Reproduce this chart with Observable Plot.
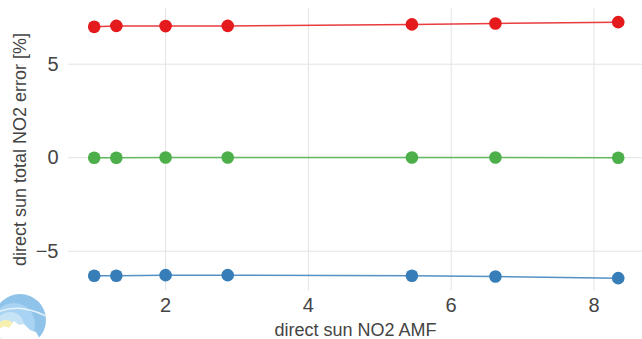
<!DOCTYPE html>
<html>
<head>
<meta charset="utf-8">
<script src="https://cdn.jsdelivr.net/npm/d3@7"></script>
<script src="https://cdn.jsdelivr.net/npm/@observablehq/plot@0.6"></script>
<style>
  html, body { margin: 0; padding: 0; background: #fff; }
  #wrap { position: relative; width: 642px; height: 339px; }
  #logo { position: absolute; left: 0; top: 288px; }
</style>
</head>
<body>
<div id="wrap">
  <div id="chart"></div>
  <svg id="logo" width="50" height="51" viewBox="0 0 50 51">
    <defs>
      <clipPath id="disc"><circle cx="20" cy="32" r="26"/></clipPath>
    </defs>
    <g clip-path="url(#disc)">
      <rect x="-10" y="0" width="70" height="60" fill="#8fc3ea"/>
      <circle cx="14" cy="36" r="21" fill="#a9d3f2"/>
      <circle cx="10" cy="38" r="14" fill="#c7e4f7"/>
      <path d="M-4 25 Q 18 14 46 28" stroke="#e6f3fb" stroke-width="1.5" fill="none"/>
      <circle cx="6" cy="42" r="10" fill="#f7f0b0"/>
      <path d="M-6 45 L4 38 L9 40 L14 33 L19 37 L24 36 L30 42 L36 44 L40 51 L-6 51 Z" fill="#ffffff"/>
    </g>
  </svg>
</div>
<script>
// Direct-sun total NO2 error versus air mass factor, three error curves
const amf = [1.0, 1.31, 2.0, 2.87, 5.45, 6.62, 8.34];
const upperError = [7.0, 7.05, 7.04, 7.05, 7.13, 7.18, 7.25];
const meanError = [0.0, 0.0, 0.01, 0.01, 0.01, 0.01, 0.0];
const lowerError = [-6.31, -6.31, -6.28, -6.28, -6.31, -6.35, -6.44];
const seriesNames = ["upper", "mean", "lower"];
const seriesColors = ["#e41a1c", "#4daf4a", "#377eb8"];
const xTicks = [2, 4, 6, 8];
const yTicks = [-5, 0, 5];
const xTitle = "direct sun NO2 AMF";
const yTitle = "direct sun total NO2 error [%]";

const rows = [upperError, meanError, lowerError].flatMap((vals, s) =>
  vals.map((v, i) => ({series: seriesNames[s], amf: amf[i], err: v}))
);

const chart = Plot.plot({
  width: 642,
  height: 339,
  marginLeft: 68,
  marginRight: 0,
  marginTop: 8,
  marginBottom: 49,
  style: {fontFamily: "'Liberation Sans', Arial, sans-serif", color: "#444", background: "#fff"},
  x: {domain: [0.64, 8.68]},
  y: {domain: [-7.1, 7.98]},
  color: {domain: seriesNames, range: seriesColors},
  marks: [
    Plot.gridX(xTicks, {stroke: "#e3e3e3", strokeOpacity: 1, strokeWidth: 1}),
    Plot.gridY(yTicks, {stroke: "#e3e3e3", strokeOpacity: 1, strokeWidth: 1}),
    Plot.axisX(xTicks, {tickSize: 0, tickPadding: 7, fontSize: 20, label: null, tickFormat: d => String(d)}),
    Plot.axisY(yTicks, {tickSize: 0, tickPadding: 10, fontSize: 20, label: null, tickFormat: d => d < 0 ? "\u2212" + Math.abs(d) : String(d)}),
    Plot.line(rows, {x: "amf", y: "err", z: "series", stroke: "series", strokeWidth: 1.5, strokeOpacity: 0.85}),
    Plot.dot(rows, {x: "amf", y: "err", fill: "series", r: 6.3, stroke: "none"}),
    Plot.text([xTitle], {frameAnchor: "bottom", dy: 40, textAnchor: "middle", lineAnchor: "middle", fontSize: 18, fill: "#444"}),
    Plot.text([yTitle], {frameAnchor: "left", dx: -48, rotate: -90, textAnchor: "middle", lineAnchor: "middle", fontSize: 18, fill: "#444"})
  ]
});
document.getElementById("chart").appendChild(chart);
</script>
</body>
</html>
